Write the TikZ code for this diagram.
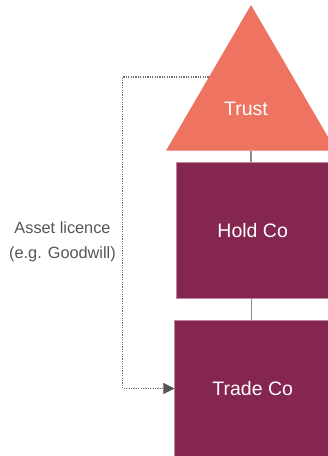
\documentclass[tikz,border=0pt]{standalone}
\usepackage{fontspec}
\setmainfont{Liberation Sans}
\definecolor{trustcol}{HTML}{EE7360}
\definecolor{boxcol}{HTML}{84264F}
\definecolor{linkcol}{HTML}{8C8C8C}
\definecolor{dotcol}{HTML}{6E6E6E}
\definecolor{tipcol}{HTML}{555555}
\definecolor{labcol}{HTML}{555555}
\tikzset{
  entity/.style={rectangle, fill=boxcol, draw=boxcol!55!white, line width=0.8pt,
    text=white, font=\fontsize{19.5}{23}\selectfont, inner sep=0pt},
  link/.style={draw=linkcol, line width=1.4pt},
  licence/.style={draw=dotcol, line width=1.1pt, dash pattern=on 1.2pt off 1.2pt},
  tip/.style={fill=tipcol, draw=tipcol, line width=0.1pt},
  sidelabel/.style={text=labcol, align=center, font=\fontsize{16.3}{24.5}\selectfont, inner sep=0pt}
}
\begin{document}
\begin{tikzpicture}[x=1pt,y=-1pt]
\useasboundingbox (0,0) rectangle (328,456);
\clip (0,0) rectangle (328,456);
% Trust triangle
\fill[trustcol] (251,5) -- (336,150.7) -- (166,150.7) -- cycle;
\draw[trustcol!70!white, line width=0.8pt] (166,150.7) -- (336,150.7);
\coordinate (trustbase) at (251,150.7);
\coordinate (trustleft) at (208.5,77);
\node[text=white, font=\fontsize{19.5}{23}\selectfont, inner sep=0pt] (trust) at (246,109) {Trust};
% boxes
\node[entity, minimum width=152pt, minimum height=136pt] (hold) at (252.7,230.3) {Hold Co};
\node[entity, minimum width=156pt, minimum height=138pt] (trade) at (252.7,389) {Trade Co};
% connectors
\draw[link] (trustbase) -- (trustbase |- hold.north);
\draw[link] (hold.south -| 251.5,0) -- (trade.north -| 251.5,0);
% licence
\coordinate (bend1) at (122.7,77);
\coordinate (bend2) at (122.7,388.5);
\coordinate (tipbase) at (163.3,388.5);
\draw[licence] (trustleft) -- (bend1) -- (bend2) -- (tipbase);
\draw[tip] (163.3,383) -- (trade.west |- bend2) -- (163.3,394) -- cycle;
\node[sidelabel] (lab) at (62.5,242) {Asset licence\\(e.g. Goodwill)};
\end{tikzpicture}
\end{document}
